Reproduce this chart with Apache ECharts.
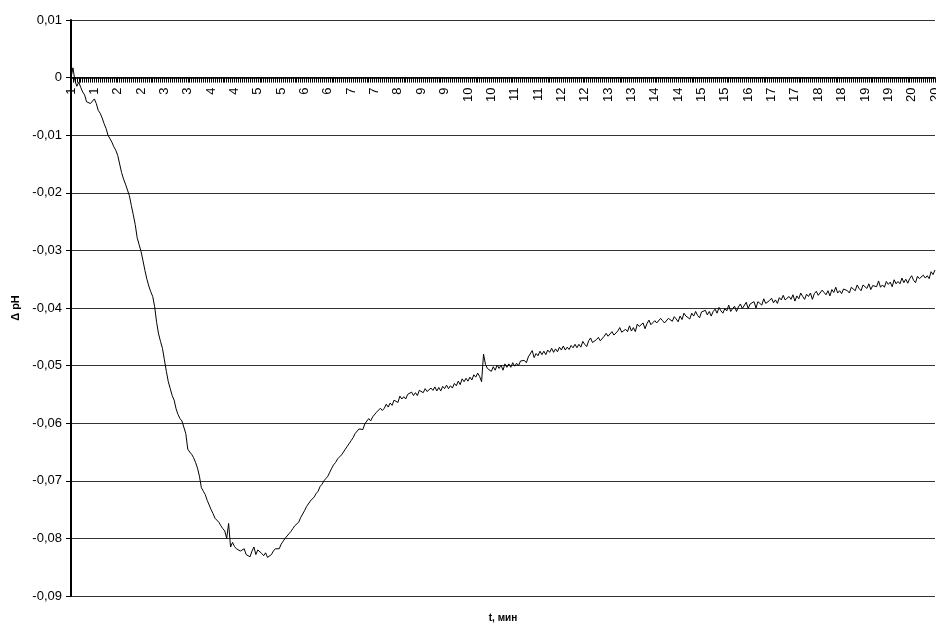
<!DOCTYPE html>
<html><head><meta charset="utf-8">
<script src="https://cdn.jsdelivr.net/npm/echarts@6/dist/echarts.min.js"></script>
<style>html,body{margin:0;padding:0;background:#fff}#c{width:936px;height:625px}</style>
</head><body><div id="c"></div>
<script>
// x-axis tick labels (minutes), one every labelStep categories
const tickLabels = ["1","1","2","2","3","3","4","4","5","5","6","6","7","7","8","9","9","10","10","11","11","12","12","13","13","14","14","15","15","16","17","17","18","18","19","19","20","20"];
const labelStep = 12;
// y-axis ticks
const yMin = -0.09, yMax = 0.01, yStep = 0.01;
// Δ pH readings
const dpH = [
0,0.0017,-0.0005,-0.0015,-0.0008,-0.0017,-0.0025,-0.0030,-0.0042,-0.0040,-0.0045,-0.0048,-0.0037,-0.0045,-0.0057,-0.0062,-0.0070,-0.0080,-0.0088,-0.0100,
-0.0103,-0.0112,-0.0120,-0.0126,-0.0135,-0.0150,-0.0165,-0.0176,-0.0185,-0.0183,-0.0205,-0.0222,-0.0238,-0.0255,-0.0278,-0.0290,-0.0302,-0.0318,-0.0335,-0.0350,
-0.0362,-0.0372,-0.0380,-0.0398,-0.0425,-0.0445,-0.0458,-0.0470,-0.0490,-0.0510,-0.0528,-0.0540,-0.0552,-0.0560,-0.0575,-0.0585,-0.0592,-0.0596,-0.0598,-0.0618,
-0.0645,-0.0650,-0.0654,-0.0660,-0.0668,-0.0678,-0.0692,-0.0712,-0.0718,-0.0724,-0.0734,-0.0742,-0.0750,-0.0757,-0.0765,-0.0768,-0.0772,-0.0778,-0.0783,-0.0787,
-0.0800,-0.0774,-0.0815,-0.0807,-0.0814,-0.0818,
-0.0815,-0.0822,-0.0825,-0.0818,-0.0828,-0.0826,-0.0832,-0.0822,-0.0815,-0.0828,-0.0820,-0.0818,-0.0826,-0.0830,-0.0825,-0.0833,-0.0835,-0.0828,-0.0822,-0.0818,
-0.0815,-0.0818,-0.0810,-0.0805,-0.0800,-0.0798,-0.0792,-0.0788,-0.0783,-0.0778,-0.0775,-0.0772,-0.0764,-0.0762,-0.0752,-0.0745,-0.0742,-0.0735,-0.0734,-0.0728,
-0.0722,-0.0718,-0.0710,-0.0706,-0.0700,-0.0696,-0.0692,-0.0685,-0.0678,-0.0672,-0.0668,-0.0662,-0.0660,-0.0655,-0.0652,-0.0645,-0.0640,-0.0635,-0.0630,-0.0625,
-0.0618,-0.0620,-0.0610,-0.0612,-0.0611,-0.0601,-0.0601,-0.0592,-0.0596,-0.0589,-0.0591,-0.0581,-0.0583,-0.0574,-0.0578,-0.0574,-0.0567,-0.0572,-0.0565,-0.0569,
-0.0560,-0.0561,-0.0564,-0.0553,-0.0558,-0.0554,-0.0558,-0.0550,-0.0553,-0.0546,-0.0552,-0.0547,-0.0552,-0.0543,-0.0545,-0.0547,-0.0540,-0.0545,-0.0548,-0.0539,
-0.0543,-0.0537,-0.0544,-0.0538,-0.0544,-0.0536,-0.0540,-0.0534,-0.0540,-0.0535,-0.0539,-0.0531,-0.0535,-0.0527,-0.0533,-0.0523,-0.0528,-0.0522,-0.0527,-0.0520,
-0.0525,-0.0516,-0.0520,-0.0513,-0.0519,-0.0528,-0.0480,-0.0498,-0.0505,-0.0504,-0.0510,-0.0502,-0.0508,-0.0499,-0.0505,-0.0499,-0.0508,-0.0497,-0.0503,-0.0497,
-0.0503,-0.0495,-0.0501,-0.0496,-0.0500,-0.0492,-0.0495,-0.0491,-0.0495,-0.0485,-0.0486,-0.0474,-0.0486,-0.0479,-0.0483,-0.0475,-0.0481,-0.0475,-0.0481,-0.0473,
-0.0477,-0.0470,-0.0477,-0.0471,-0.0476,-0.0468,-0.0473,-0.0466,-0.0473,-0.0468,-0.0472,-0.0465,-0.0469,-0.0463,-0.0469,
-0.0463,-0.0468,-0.0458,-0.0463,-0.0467,-0.0457,-0.0452,-0.0460,-0.0462,-0.0455,
-0.0451,-0.0457,-0.0459,-0.0449,-0.0444,-0.0449,-0.0452,-0.0441,-0.0447,-0.0450,
-0.0440,-0.0434,-0.0442,-0.0445,-0.0437,-0.0441,-0.0431,-0.0440,-0.0434,-0.0441,
-0.0428,-0.0432,-0.0434,-0.0426,-0.0436,-0.0427,-0.0421,-0.0429,-0.0430,-0.0422,
-0.0426,-0.0429,-0.0418,-0.0422,-0.0426,-0.0429,-0.0418,-0.0419,-0.0423,-0.0415,
-0.0419,-0.0424,-0.0414,-0.0420,-0.0409,-0.0414,-0.0417,-0.0419,-0.0409,-0.0414,
-0.0406,-0.0413,-0.0417,-0.0407,-0.0409,-0.0404,-0.0412,-0.0406,-0.0414,-0.0406,
-0.0402,-0.0409,-0.0399,-0.0405,-0.0409,-0.0401,-0.0405,-0.0395,-0.0406,-0.0401,
-0.0397,-0.0406,-0.0398,-0.0393,-0.0401,-0.0398,-0.0390,-0.0401,-0.0393,-0.0396,
-0.0389,-0.0400,-0.0389,-0.0391,-0.0395,-0.0384,-0.0392,-0.0394,-0.0387,-0.0383,
-0.0391,-0.0386,-0.0392,-0.0382,-0.0386,-0.0378,-0.0386,-0.0388,-0.0380,-0.0385,
-0.0377,-0.0388,-0.0379,-0.0384,-0.0374,-0.0380,-0.0385,-0.0376,-0.0380,-0.0374,
-0.0385,-0.0375,-0.0371,-0.0378,-0.0380,-0.0369,-0.0373,-0.0377,-0.0370,-0.0379,
-0.0368,-0.0373,-0.0364,-0.0374,-0.0370,-0.0375,-0.0367,-0.0364,-0.0370,-0.0374,
-0.0364,-0.0366,-0.0370,-0.0360,-0.0366,-0.0370,-0.0360,-0.0362,-0.0366,-0.0358,
-0.0368,-0.0361,-0.0358,-0.0363,-0.0353,-0.0364,-0.0360,-0.0364,-0.0354,-0.0359,
-0.0355,-0.0363,-0.0351,-0.0358,-0.0354,-0.0358,-0.0348,-0.0356,-0.0350,-0.0357,
-0.0349,-0.0344,-0.0352,-0.0356,-0.0345,-0.0349,-0.0351,-0.0343,-0.0348,-0.0344,
-0.0349,-0.0337,-0.0342,-0.0334
];
const categories = dpH.map((_, i) => String(i));

const FONT = "'Liberation Sans', Arial, sans-serif";
const GRID_TOP = 20, GRID_BOTTOM = 29, CHART_H = 625;
const plotH = CHART_H - GRID_TOP - GRID_BOTTOM;
// place the category axis on the zero line
const zeroOffset = -plotH * (0 - yMin) / (yMax - yMin);

const chart = echarts.init(document.getElementById('c'), null, {renderer: 'canvas'});
chart.setOption({
  animation: false,
  backgroundColor: '#fff',
  textStyle: {fontFamily: FONT, color: '#000'},
  grid: {left: 71, right: 1, top: GRID_TOP, bottom: GRID_BOTTOM, containLabel: false, outerBoundsMode: 'none'},
  xAxis: [{
    type: 'category',
    data: categories,
    boundaryGap: false,
    position: 'bottom',
    offset: zeroOffset,
    axisLine: {onZero: false, lineStyle: {color: '#000', width: 1.5}},
    axisTick: {show: true, interval: 0, length: 5, lineStyle: {color: '#000', width: 1}},
    axisLabel: {
      interval: labelStep - 1, rotate: 90, margin: 10, fontSize: 13, color: '#000', fontFamily: FONT,
      formatter: (v, idx) => (idx % labelStep === 0 && tickLabels[idx / labelStep] !== undefined) ? tickLabels[idx / labelStep] : ''
    },
    splitLine: {show: false}
  }, {
    type: 'category',
    data: categories,
    position: 'bottom',
    axisLine: {show: false, onZero: false},
    axisTick: {show: false},
    axisLabel: {show: false},
    splitLine: {show: false},
    name: 't, мин',
    nameLocation: 'middle',
    nameGap: 17,
    nameTextStyle: {fontWeight: 'bold', fontSize: 10, color: '#000', fontFamily: FONT}
  }],
  yAxis: {
    type: 'value',
    min: yMin, max: yMax, interval: yStep,
    axisLine: {show: true, lineStyle: {color: '#000', width: 2}},
    axisTick: {show: true, length: 5, lineStyle: {color: '#000'}},
    axisLabel: {
      margin: 9, fontSize: 13, color: '#000', fontFamily: FONT,
      formatter: v => Math.abs(v) < 1e-9 ? '0' : v.toFixed(2).replace('.', ',')
    },
    splitLine: {show: true, lineStyle: {color: '#333', width: 1}},
    name: 'Δ pH',
    nameLocation: 'middle',
    nameGap: 45,
    nameTextStyle: {fontWeight: 'bold', fontSize: 11, color: '#000', fontFamily: FONT}
  },
  series: [{
    type: 'line',
    xAxisIndex: 0,
    data: dpH,
    showSymbol: false,
    symbol: 'none',
    lineStyle: {color: '#000', width: 1},
    silent: true
  }]
});
</script>
</body></html>
